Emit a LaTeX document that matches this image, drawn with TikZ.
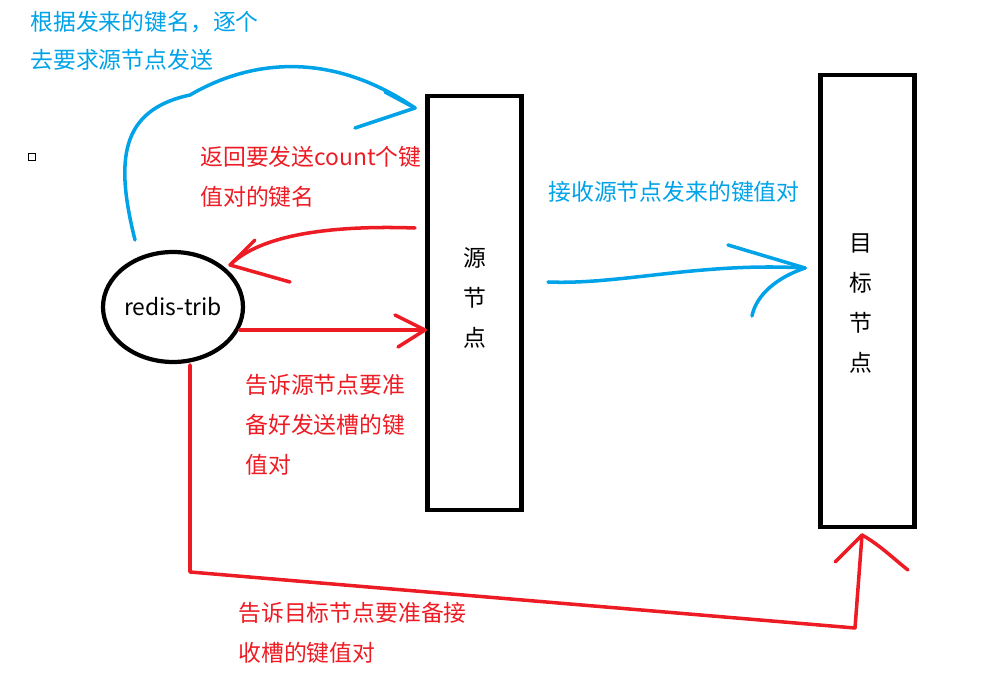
\documentclass[tikz,border=0pt]{standalone}
\usepackage{fontspec}
\usetikzlibrary{shapes.geometric}
\newfontfamily\cjk{Noto Sans CJK SC}
\definecolor{myblue}{RGB}{0,162,232}
\definecolor{myred}{RGB}{237,28,36}
\tikzset{
  box/.style={draw,line width=2.4pt,minimum width=1.88cm,inner sep=0pt},
  lbl/.style={anchor=west,inner sep=0pt,font=\cjk\fontsize{13}{15}\selectfont},
  btxt/.style={lbl,text=myblue},
  rtxt/.style={lbl,text=myred},
  bl/.style={myblue,line width=2pt,line cap=round,line join=round},
  rl/.style={myred,line width=2pt,line cap=round,line join=round},
}
\begin{document}
\begin{tikzpicture}[x=0.02cm,y=-0.02cm]
\useasboundingbox (0,0) rectangle (1006,688);
\node[draw,line width=2.4pt,ellipse,minimum width=2.8cm,minimum height=2.2cm,inner sep=0pt] (rt) at (173,307) {};
\node[lbl,anchor=center] at (173,307) {redis-trib};
\node[box,minimum height=8.28cm] (src) at (474.5,303) {};
\node[box,minimum height=9.04cm] (dst) at (867.5,301) {};
\foreach \t/\y in {源/258,节/298,点/338} \node[lbl,anchor=center] at (475,\y) {\t};
\foreach \t/\y in {目/243,标/283,节/323,点/363} \node[lbl,anchor=center] at (861,\y) {\t};
\draw (28,153) rectangle (35,160);
% blue top
\node[btxt] (t1) at (30,22) {根据发来的键名，逐个};
\node[btxt] (t2) at (30,60) {去要求源节点发送};
\coordinate (b0) at (135,240);
\coordinate (b1) at (415,108);
\draw[bl] (b0) .. controls (115,160) and (120,110) .. (190,95) .. controls (250,60) and (330,50) .. (b1);
\draw[bl] (b1) -- (355,128);
\draw[bl] (b1) -- (385,92);
% red return
\node[rtxt] at (200,157) {返回要发送count个键};
\node[rtxt] at (200,197) {值对的键名};
\coordinate (r0) at (415,228);
\coordinate (r1) at (230,265);
\draw[rl] (r0) .. controls (330,225) and (260,235) .. (r1);
\draw[rl] (r1) -- (255,240);
\draw[rl] (r1) -- (290,282);
% red to source
\coordinate (r2) at (240,330);
\coordinate (r3) at (425,330);
\draw[rl] (r2) -- (r3);
\draw[rl] (r3) -- (395,315);
\draw[rl] (r3) -- (398,347);
\node[rtxt] at (245,385) {告诉源节点要准};
\node[rtxt] at (245,425) {备好发送槽的键};
\node[rtxt] at (245,465) {值对};
% red to target
\coordinate (r4) at (190,365);
\coordinate (r5) at (862,535);
\draw[rl] (r4) -- (190,572) -- (855,628) -- (r5);
\draw[rl] (r5) -- (835,562);
\draw[rl] (r5) .. controls (880,545) and (895,560) .. (908,570);
\node[rtxt] at (238,613) {告诉目标节点要准备接};
\node[rtxt] at (238,653) {收槽的键值对};
% blue to target
\node[btxt] at (548,192) {接收源节点发来的键值对};
\coordinate (b2) at (548,282);
\coordinate (b3) at (805,268);
\draw[bl] (b2) .. controls (620,285) and (700,262) .. (b3);
\draw[bl] (b3) -- (728,245);
\draw[bl] (b3) .. controls (770,280) and (755,300) .. (752,316);
\end{tikzpicture}
\end{document}
